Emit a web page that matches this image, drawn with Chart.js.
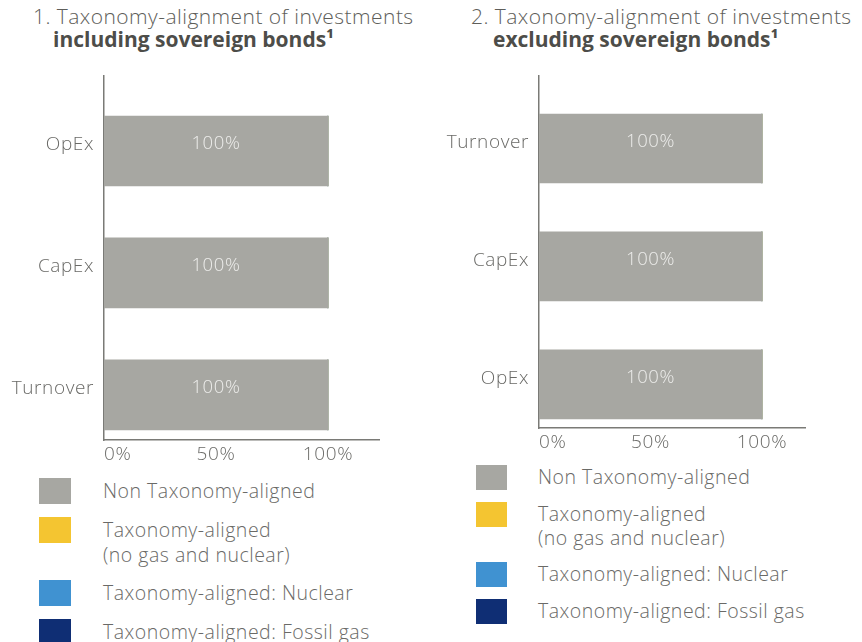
<!DOCTYPE html>
<html>
<head>
<meta charset="utf-8">
<script src="https://cdn.jsdelivr.net/npm/chart.js@4.4.1/dist/chart.umd.min.js"></script>
<style>
  body { margin: 0; background: #fff; font-family: "Open Sans", sans-serif; }
  #page { position: relative; width: 862px; height: 642px; overflow: hidden; }
  .title { position: absolute; font-size: 21px; line-height: 23px; color: #5e5e5a; white-space: nowrap; font-weight: 300; letter-spacing: 0.45px; }
  .title b { display: block; color: #4d4d49; font-weight: 700; font-size: 21px; letter-spacing: 0; }
  .wrap { position: absolute; }
  .legend { position: absolute; }
  .legend .item { display: flex; align-items: flex-start; }
  .legend .box { flex: none; }
  .legend .txt { color: #6a6a67; font-size: 19.5px; white-space: nowrap; font-weight: 300; letter-spacing: 0.5px; }
</style>
</head>
<body>
<div id="page">
  <div class="title" style="left:33px; top:5px;">1. Taxonomy-alignment of investments<b style="margin-left:20px;">including sovereign bonds¹</b></div>
  <div class="title" style="left:471px; top:5px;">2. Taxonomy-alignment of investments<b style="margin-left:22px;">excluding sovereign bonds¹</b></div>

  <div class="wrap" style="left:0; top:54px; width:400px; height:416px;"><canvas id="chart1"></canvas></div>
  <div class="wrap" style="left:430px; top:54px; width:400px; height:404px;"><canvas id="chart2"></canvas></div>

  <div class="legend" id="legend1" style="left:39px; top:478px;"></div>
  <div class="legend" id="legend2" style="left:476px; top:465px;"></div>
</div>

<script>
// Series names and colours (shared by both panels)
const seriesNames = [
  'Non Taxonomy-aligned',
  'Taxonomy-aligned\n(no gas and nuclear)',
  'Taxonomy-aligned: Nuclear',
  'Taxonomy-aligned: Fossil gas'
];
const seriesColors = ['#a7a7a2', '#f4c531', '#4092d1', '#0f2e74'];

// Panel 1: including sovereign bonds
const categories1 = ['OpEx', 'CapEx', 'Turnover'];
const nonAligned1 = [100, 100, 100];
const aligned1 = [0, 0, 0];
const nuclear1 = [0, 0, 0];
const fossilGas1 = [0, 0, 0];

// Panel 2: excluding sovereign bonds
const categories2 = ['Turnover', 'CapEx', 'OpEx'];
const nonAligned2 = [100, 100, 100];
const aligned2 = [0, 0, 0];
const nuclear2 = [0, 0, 0];
const fossilGas2 = [0, 0, 0];

const xTicks = [0, 50, 100];

// wider tracking for all canvas text (axis ticks and bar labels)
const tracking = {
  id: 'tracking',
  beforeUpdate(chart) { chart.ctx.letterSpacing = '0.6px'; },
  beforeDraw(chart) { chart.ctx.letterSpacing = '0.6px'; }
};

// "100%" labels inside the bars
const barLabels = {
  id: 'barLabels',
  afterDatasetsDraw(chart) {
    const ctx = chart.ctx;
    ctx.save();
    ctx.font = '300 18.5px "Open Sans"';
    ctx.fillStyle = '#ededeb';
    ctx.textAlign = 'center';
    ctx.textBaseline = 'middle';
    chart.data.datasets.forEach((ds, di) => {
      const meta = chart.getDatasetMeta(di);
      meta.data.forEach((bar, i) => {
        const v = ds.data[i].x;
        if (v <= 0) return;
        const cx = (bar.x + bar.base) / 2;
        ctx.fillText(v + '%', cx, bar.y - 7);
      });
    });
    ctx.restore();
  }
};

function makeChart(id, categories, series, opts) {
  const datasets = series.map((vals, s) => ({
    label: seriesNames[s],
    data: vals.map((v, i) => ({ x: v, y: i })),
    backgroundColor: seriesColors[s],
    borderWidth: 0,
    barThickness: opts.barThickness
  }));

  return new Chart(document.getElementById(id), {
    type: 'bar',
    data: { datasets: datasets },
    plugins: [tracking, barLabels],
    options: {
      indexAxis: 'y',
      responsive: true,
      maintainAspectRatio: false,
      animation: false,
      layout: { padding: { top: 8, right: opts.padRight, left: 0, bottom: 0 } },
      plugins: { legend: { display: false }, tooltip: { enabled: false } },
      scales: {
        x: {
          type: 'linear',
          stacked: true,
          min: 0,
          max: opts.xMax,
          grid: { display: false, drawTicks: false },
          border: { color: '#7a7a76', width: 1.5 },
          afterBuildTicks: (scale) => {
            scale.ticks = xTicks.concat([opts.xMax]).map(v => ({ value: v }));
          },
          afterFit: (scale) => { scale.height = 30; },
          ticks: {
            align: 'inner',
            padding: 3,
            color: '#6a6a67',
            font: { family: 'Open Sans', size: 19, weight: 300 },
            callback: (v) => xTicks.includes(v) ? v + '%' : ''
          }
        },
        y: {
          type: 'linear',
          stacked: true,
          offset: false,
          reverse: true,
          min: -0.62,
          max: 2.37,
          grid: { display: false, drawTicks: false, offset: false },
          border: { color: '#7a7a76', width: 1.5 },
          afterBuildTicks: (scale) => {
            scale.ticks = categories.map((c, i) => ({ value: i }));
          },
          afterFit: (scale) => { scale.width = opts.yWidth; },
          ticks: {
            padding: 10,
            labelOffset: -6,
            color: '#6a6a67',
            font: { family: 'Open Sans', size: 19, weight: 300 },
            callback: (v) => categories[v] ?? ''
          }
        }
      }
    }
  });
}

function makeLegend(id, box, lineH, gap) {
  const el = document.getElementById(id);
  seriesNames.forEach((name, s) => {
    const item = document.createElement('div');
    item.className = 'item';
    item.style.marginBottom = gap + 'px';
    const sq = document.createElement('div');
    sq.className = 'box';
    sq.style.width = box.w + 'px';
    sq.style.height = box.h + 'px';
    sq.style.background = seriesColors[s];
    const txt = document.createElement('div');
    txt.className = 'txt';
    txt.style.marginLeft = box.gapText + 'px';
    txt.style.lineHeight = lineH + 'px';
    txt.innerHTML = name.replace('\n', '<br>');
    item.appendChild(sq);
    item.appendChild(txt);
    el.appendChild(item);
  });
}

makeChart('chart1', categories1, [nonAligned1, aligned1, nuclear1, fossilGas1],
  { xMax: 122.8, padRight: 21, yWidth: 104, barThickness: 70 });
makeChart('chart2', categories2, [nonAligned2, aligned2, nuclear2, fossilGas2],
  { xMax: 119.3, padRight: 25, yWidth: 109, barThickness: 69 });

makeLegend('legend1', { w: 32, h: 26, gapText: 32 }, 25, 13);
makeLegend('legend2', { w: 31, h: 25, gapText: 31 }, 24, 12);
</script>
</body>
</html>
